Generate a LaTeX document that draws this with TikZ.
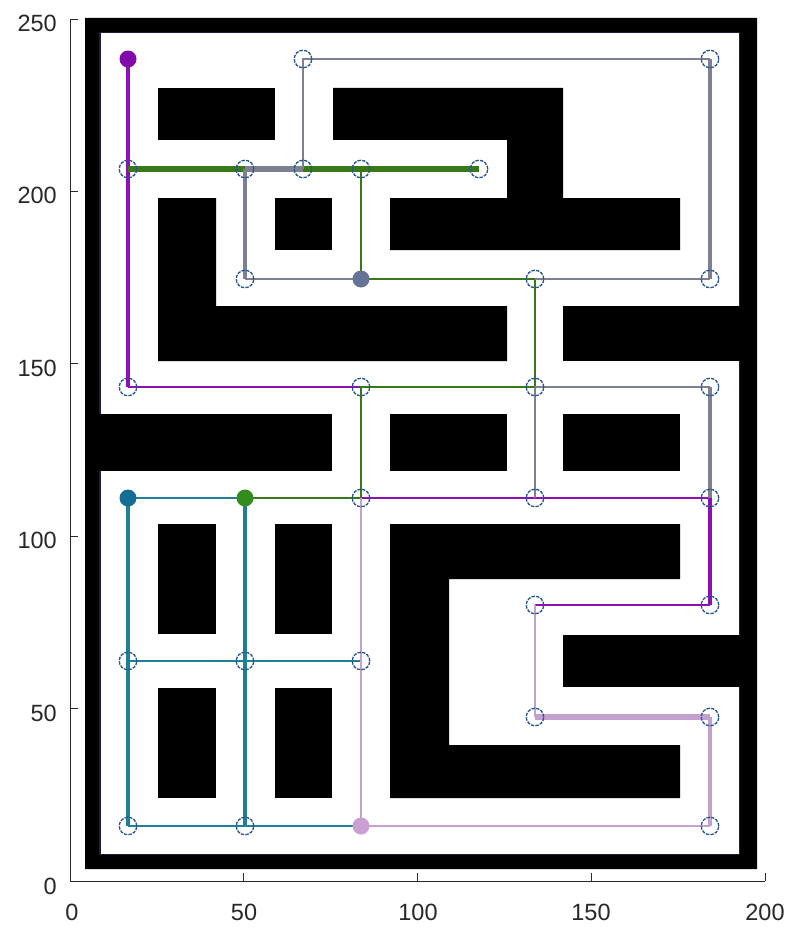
\documentclass[tikz,border=0pt]{standalone}
\usepackage{fontspec}
\setmainfont{Liberation Sans}
\pgfdeclarelayer{bg}
\pgfdeclarelayer{edges}
\pgfsetlayers{bg,edges,main}
\definecolor{purpleC}{RGB}{140,16,180}
\definecolor{greenC}{RGB}{56,120,24}
\definecolor{grayC}{RGB}{125,128,145}
\definecolor{tealC}{RGB}{30,128,150}
\definecolor{lavC}{RGB}{195,160,205}
\definecolor{nodeblue}{RGB}{40,85,140}
\definecolor{rootPurple}{RGB}{130,10,170}
\definecolor{rootGray}{RGB}{100,115,150}
\definecolor{rootTeal}{RGB}{20,110,150}
\definecolor{rootGreen}{RGB}{50,140,30}
\definecolor{rootLav}{RGB}{200,160,210}
\definecolor{navy}{RGB}{30,30,60}
\definecolor{axisC}{RGB}{40,40,40}
\begin{document}
\begin{tikzpicture}[x=1pt,y=-1pt,
  vtx/.style={circle, draw=nodeblue, line width=1.3pt, dash pattern=on 3.4pt off 1.2pt, minimum size=17.5pt, inner sep=0pt},
  rootnode/.style={circle, minimum size=17pt, inner sep=0pt},
  wall/.style={fill=black},
  thinE/.style={line width=1.7pt},
  medE/.style={line width=3.3pt},
  thickE/.style={line width=5.5pt},
  tick/.style={line width=0.9pt, draw=axisC},
  lbl/.style={font=\fontsize{23.5}{24}\selectfont, text=axisC, inner sep=0pt}]
\useasboundingbox (0,0) rectangle (787,928);
\begin{pgfonlayer}{bg}
\fill[white] (0,0) rectangle (787,928);
% outer frame
\fill[black, even odd rule] (85,18) rectangle (757,869) (99,32) rectangle (740,855);
\draw[navy, line width=1.5pt] (99.75,32.75) rectangle (739.25,854.25);
% walls
\fill[wall] (158,88) rectangle (275,140);
\fill[wall] (333,88) -- (563,88) -- (563,198) -- (680,198) -- (680,250) -- (390,250) -- (390,198) -- (507,198) -- (507,140) -- (333,140) -- cycle;
\fill[wall] (275,198) rectangle (332,250);
\fill[wall] (158,198) -- (216,198) -- (216,306) -- (507,306) -- (507,361) -- (158,361) -- cycle;
\fill[wall] (563,306) rectangle (740,361);
\fill[wall] (99,414) rectangle (332,471);
\fill[wall] (390,414) rectangle (507,471);
\fill[wall] (563,414) rectangle (680,471);
\fill[wall] (158,524) rectangle (216,634);
\fill[wall] (275,524) rectangle (332,634);
\fill[wall] (390,524) -- (680,524) -- (680,579) -- (449,579) -- (449,745) -- (680,745) -- (680,798) -- (390,798) -- cycle;
\fill[wall] (563,635) rectangle (740,687);
\fill[wall] (158,688) rectangle (216,798);
\fill[wall] (275,688) rectangle (332,798);
% axes
\draw[tick] (70,19) -- (70,881) -- (765,881);
\foreach \yy in {881,708.6,536.2,363.8,191.4,19} \draw[tick] (70,\yy) -- (78,\yy);
\foreach \xx in {70,243.7,417.5,591.2,765} \draw[tick] (\xx,881) -- (\xx,873);
\end{pgfonlayer}
% tick labels
\node[lbl, anchor=east] (ly0) at (57,886) {0};
\node[lbl, anchor=east] (ly50) at (57,713) {50};
\node[lbl, anchor=east] (ly100) at (57,540) {100};
\node[lbl, anchor=east] (ly150) at (57,368) {150};
\node[lbl, anchor=east] (ly200) at (57,195) {200};
\node[lbl, anchor=east] (ly250) at (57,23) {250};
\node[lbl] (lx0) at (72,912) {0};
\node[lbl] (lx50) at (244,912) {50};
\node[lbl] (lx100) at (418,912) {100};
\node[lbl] (lx150) at (591,912) {150};
\node[lbl] (lx200) at (765,912) {200};
% open vertices
\node[vtx] (a67) at (303,59) {};
\node[vtx] (a185) at (710,59) {};
\node[vtx] (b17) at (128,169) {};
\node[vtx] (b50) at (245,169) {};
\node[vtx] (b67) at (303,169) {};
\node[vtx] (b84) at (361,169) {};
\node[vtx] (b118) at (479,169) {};
\node[vtx] (c50) at (245,279) {};
\node[vtx] (c134) at (535,279) {};
\node[vtx] (c185) at (710,279) {};
\node[vtx] (d17) at (128,387) {};
\node[vtx] (d84) at (361,387) {};
\node[vtx] (d134) at (535,387) {};
\node[vtx] (d185) at (710,387) {};
\node[vtx] (e84) at (361,498) {};
\node[vtx] (e134) at (535,498) {};
\node[vtx] (e185) at (710,498) {};
\node[vtx] (f134) at (535,605) {};
\node[vtx] (f185) at (710,605) {};
\node[vtx] (g17) at (128,661) {};
\node[vtx] (g50) at (245,661) {};
\node[vtx] (g84) at (361,661) {};
\node[vtx] (h134) at (535,717) {};
\node[vtx] (h185) at (710,717) {};
\node[vtx] (i17) at (128,826) {};
\node[vtx] (i50) at (245,826) {};
\node[vtx] (i185) at (710,826) {};
% roots
\node[rootnode, fill=rootPurple] (a17) at (128,59) {};
\node[rootnode, fill=rootGray] (c84) at (361,279) {};
\node[rootnode, fill=rootTeal] (e17) at (128,498) {};
\node[rootnode, fill=rootGreen] (e50) at (245,498) {};
\node[rootnode, fill=rootLav] (i84) at (361,826) {};
\begin{pgfonlayer}{edges}
% purple
\draw[purpleC, medE] (a17.center) -- (b17.center) -- (d17.center);
\draw[purpleC, thinE] (d17.center) -- (d84.center);
\draw[purpleC, thinE] (e84.center) -- (e134.center) -- (e185.center);
\draw[purpleC, medE] (e185.center) -- (f185.center);
\draw[purpleC, thinE] (f185.center) -- (f134.center);
% green
\draw[greenC, thickE] (b17.center) -- (b50.center);
\draw[greenC, thickE] (b67.center) -- (b84.center) -- (b118.center);
\draw[greenC, thinE] (b84.center) -- (c84.center) -- (c134.center) -- (d134.center) -- (d84.center) -- (e84.center) -- (e50.center);
% gray
\draw[grayC, thickE] (b50.center) -- (b67.center);
\draw[grayC, medE] (b50.center) -- (c50.center);
\draw[grayC, thinE] (c50.center) -- (c84.center);
\draw[grayC, thinE] (b67.center) -- (a67.center) -- (a185.center);
\draw[grayC, medE] (a185.center) -- (c185.center);
\draw[grayC, thinE] (c185.center) -- (c134.center);
\draw[grayC, thinE] (d134.center) -- (d185.center);
\draw[grayC, medE] (d185.center) -- (e185.center);
\draw[grayC, thinE] (d134.center) -- (e134.center);
% teal
\draw[tealC, thinE] (e17.center) -- (e50.center);
\draw[tealC, medE] (e17.center) -- (g17.center) -- (i17.center);
\draw[tealC, medE] (e50.center) -- (g50.center) -- (i50.center);
\draw[tealC, thinE] (g17.center) -- (g50.center) -- (g84.center);
\draw[tealC, thinE] (i17.center) -- (i50.center) -- (i84.center);
% lavender
\draw[lavC, thinE] (i84.center) -- (g84.center) -- (e84.center);
\draw[lavC, thinE] (i84.center) -- (i185.center);
\draw[lavC, medE] (i185.center) -- (h185.center);
\draw[lavC, thickE] (h185.center) -- (h134.center);
\draw[lavC, thinE] (h134.center) -- (f134.center);
\end{pgfonlayer}
\end{tikzpicture}
\end{document}
